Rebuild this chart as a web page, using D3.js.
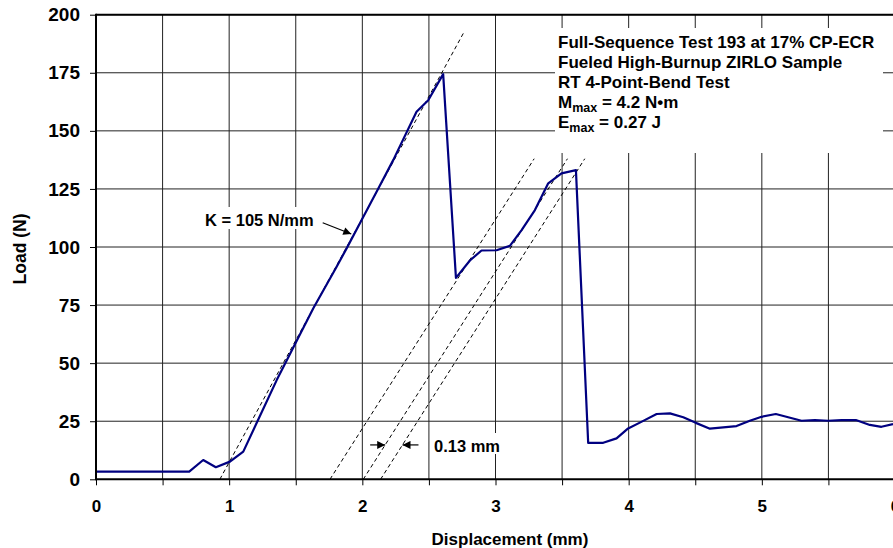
<!DOCTYPE html>
<html>
<head>
<meta charset="utf-8">
<script src="https://cdn.jsdelivr.net/npm/d3@7"></script>
<style>
  html, body { margin: 0; padding: 0; background: #fff; overflow: hidden; }
  svg { display: block; font-family: "Liberation Sans", Arial, sans-serif; font-weight: bold; }
</style>
</head>
<body>
<svg id="chart" width="893" height="548"></svg>
<script>
// Load–displacement record of the 4-point-bend test
const displacementMm = [0, 0.70, 0.805, 0.90, 1.006, 1.106, 1.357, 1.632, 1.807, 1.882, 1.982,
  2.12, 2.232, 2.407, 2.495, 2.607, 2.703, 2.808, 2.895, 3.008, 3.108, 3.196, 3.296, 3.396,
  3.496, 3.604, 3.696, 3.809, 3.909, 3.996, 4.084, 4.21, 4.31, 4.41, 4.50, 4.61, 4.81, 4.91,
  4.998, 5.105, 5.198, 5.298, 5.398, 5.498, 5.598, 5.706, 5.811, 5.898, 5.985];
const loadN = [3.3, 3.3, 8.3, 5.2, 7.6, 11.9, 42.7, 73.6, 91.5, 99.4, 110.2,
  125.2, 137.4, 158.2, 163.2, 174.4, 86.7, 94.2, 98.5, 98.6, 100.5, 107.3, 115.9, 127.4,
  131.7, 133.1, 15.7, 15.7, 17.6, 21.9, 24.4, 28.1, 28.4, 26.7, 24.4, 21.8, 22.9, 25.2,
  26.9, 28.1, 26.7, 25.2, 25.5, 25.2, 25.5, 25.5, 23.4, 22.6, 23.8];

// Axis ticks
const xTickLabels = [0, 1, 2, 3, 4, 5, 6];
const xGridMm = [0.5, 1, 1.5, 2, 2.5, 3, 3.5, 4, 4.5, 5, 5.5, 6];
const yTickLabels = [0, 25, 50, 75, 100, 125, 150, 175, 200];

// Elastic stiffness line (K) and the parallel unloading lines
const stiffnessK = 105;          // N/mm
const stiffnessOriginMm = 0.93;  // displacement where the K line meets zero load
const stiffnessTopN = 193;
const unloadSlope = 90;          // N/mm
const unloadOriginsMm = [1.757, 2.007, 2.137];
const unloadTopN = 138;
const offsetLabel = "0.13 mm";

const infoLines = [
  { main: "Full-Sequence Test 193 at 17% CP-ECR" },
  { main: "Fueled High-Burnup ZIRLO Sample" },
  { main: "RT 4-Point-Bend Test" },
  { main: "M", sub: "max", rest: " = 4.2 N•m" },
  { main: "E", sub: "max", rest: " = 0.27 J" }
];

const svg = d3.select("#chart");
const x = d3.scaleLinear().domain([0, 6]).range([96, 895]);
const y = d3.scaleLinear().domain([0, 200]).range([479.3, 14.7]);

// Grid
const grid = svg.append("g").attr("stroke", "#222").attr("stroke-width", 1);
grid.selectAll("line.v").data(xGridMm).join("line")
  .attr("x1", d => x(d)).attr("x2", d => x(d))
  .attr("y1", y(0)).attr("y2", y(200));
grid.selectAll("line.h").data(yTickLabels.filter(d => d > 0)).join("line")
  .attr("x1", x(0)).attr("x2", 893)
  .attr("y1", d => y(d)).attr("y2", d => y(d));

// White panels behind the annotations
svg.append("rect").attr("x", 555).attr("y", 28).attr("width", 328).attr("height", 125).attr("fill", "#fff");
svg.append("rect").attr("x", 201).attr("y", 207).attr("width", 118).attr("height", 22).attr("fill", "#fff");
svg.append("rect").attr("x", 431).attr("y", 433).attr("width", 72).attr("height", 21).attr("fill", "#fff");

// Dashed reference lines
const dashed = svg.append("g").attr("stroke", "#000").attr("stroke-width", 1)
  .attr("stroke-dasharray", "4,3").attr("fill", "none");
dashed.append("line")
  .attr("x1", x(stiffnessOriginMm)).attr("y1", y(0))
  .attr("x2", x(stiffnessOriginMm + stiffnessTopN / stiffnessK)).attr("y2", y(stiffnessTopN));
dashed.selectAll("line.u").data(unloadOriginsMm).join("line")
  .attr("x1", d => x(d)).attr("y1", y(0))
  .attr("x2", d => x(d + unloadTopN / unloadSlope)).attr("y2", y(unloadTopN));

// Load curve
const pts = displacementMm.map((d, i) => [d, loadN[i]]);
svg.append("path")
  .datum(pts)
  .attr("fill", "none")
  .attr("stroke", "#000080")
  .attr("stroke-width", 2.2)
  .attr("stroke-linejoin", "round")
  .attr("d", d3.line().x(d => x(d[0])).y(d => y(d[1])));

// Axes
const xAxis = svg.append("g").attr("transform", `translate(0,${y(0)})`)
  .call(d3.axisBottom(x).tickValues([0].concat(xGridMm)).tickSize(6)
    .tickFormat(d => xTickLabels.includes(d) ? d : ""));
xAxis.select(".domain").remove();
xAxis.selectAll(".tick line").attr("stroke", "#000").attr("stroke-width", 1);
xAxis.selectAll(".tick text").attr("font-size", 17).attr("font-weight", "bold")
  .attr("font-family", "Liberation Sans, Arial, sans-serif").attr("fill", "#000").attr("dy", "1.4em");

const yAxis = svg.append("g").attr("transform", `translate(${x(0)},0)`)
  .call(d3.axisLeft(y).tickValues(yTickLabels).tickSize(6).tickPadding(10));
yAxis.select(".domain").remove();
yAxis.selectAll(".tick line").attr("stroke", "#000").attr("stroke-width", 1);
yAxis.selectAll(".tick text").attr("font-size", 19).attr("font-weight", "bold")
  .attr("font-family", "Liberation Sans, Arial, sans-serif").attr("fill", "#000");

// Frame lines
svg.append("line").attr("x1", x(0)).attr("x2", x(0)).attr("y1", y(200) - 1).attr("y2", y(0) + 1)
  .attr("stroke", "#000").attr("stroke-width", 2);
svg.append("line").attr("x1", x(0)).attr("x2", 893).attr("y1", y(0)).attr("y2", y(0))
  .attr("stroke", "#000").attr("stroke-width", 2);
svg.append("line").attr("x1", x(0)).attr("x2", 893).attr("y1", y(200)).attr("y2", y(200))
  .attr("stroke", "#000").attr("stroke-width", 2);

// Axis titles
svg.append("text").attr("x", 510).attr("y", 545).attr("text-anchor", "middle")
  .attr("font-size", 17).text("Displacement (mm)");
svg.append("text").attr("transform", "translate(26,249) rotate(-90)").attr("text-anchor", "middle")
  .attr("font-size", 17.5).text("Load (N)");

// Info block
const info = svg.append("text").attr("font-size", 17);
infoLines.forEach((ln, i) => {
  info.append("tspan").attr("x", 558).attr("y", 48.3 + i * 20).text(ln.main);
  if (ln.sub) {
    info.append("tspan").attr("font-size", 12.5).attr("dy", 4).text(ln.sub);
    info.append("tspan").attr("dy", -4).text(ln.rest);
  }
});

// Arrow marker
const defs = svg.append("defs");
defs.append("marker").attr("id", "arrow").attr("viewBox", "0 0 10 10")
  .attr("refX", 10).attr("refY", 5).attr("markerWidth", 10).attr("markerHeight", 8)
  .attr("markerUnits", "userSpaceOnUse").attr("orient", "auto")
  .append("path").attr("d", "M0,0 L10,5 L0,10 Z").attr("fill", "#000");

// Stiffness label
svg.append("text").attr("x", 205).attr("y", 225.7).attr("font-size", 16.5).text(`K = ${stiffnessK} N/mm`);
const kArrowLoad = 106;
svg.append("line").attr("x1", 322.7).attr("y1", 222.7)
  .attr("x2", x(stiffnessOriginMm + kArrowLoad / stiffnessK) - 3).attr("y2", y(kArrowLoad) + 1)
  .attr("stroke", "#000").attr("stroke-width", 1.2).attr("marker-end", "url(#arrow)");

// Offset between the two right-hand unloading lines
const arrowLoad = 14.8;
const xa = x(unloadOriginsMm[1] + arrowLoad / unloadSlope);
const xb = x(unloadOriginsMm[2] + arrowLoad / unloadSlope);
svg.append("line").attr("x1", xa - 15).attr("x2", xa).attr("y1", y(arrowLoad)).attr("y2", y(arrowLoad))
  .attr("stroke", "#000").attr("stroke-width", 1.2).attr("marker-end", "url(#arrow)");
svg.append("line").attr("x1", xb + 16).attr("x2", xb).attr("y1", y(arrowLoad)).attr("y2", y(arrowLoad))
  .attr("stroke", "#000").attr("stroke-width", 1.2).attr("marker-end", "url(#arrow)");
svg.append("text").attr("x", 434).attr("y", 452.3).attr("font-size", 16.5).text(offsetLabel);
</script>
</body>
</html>
